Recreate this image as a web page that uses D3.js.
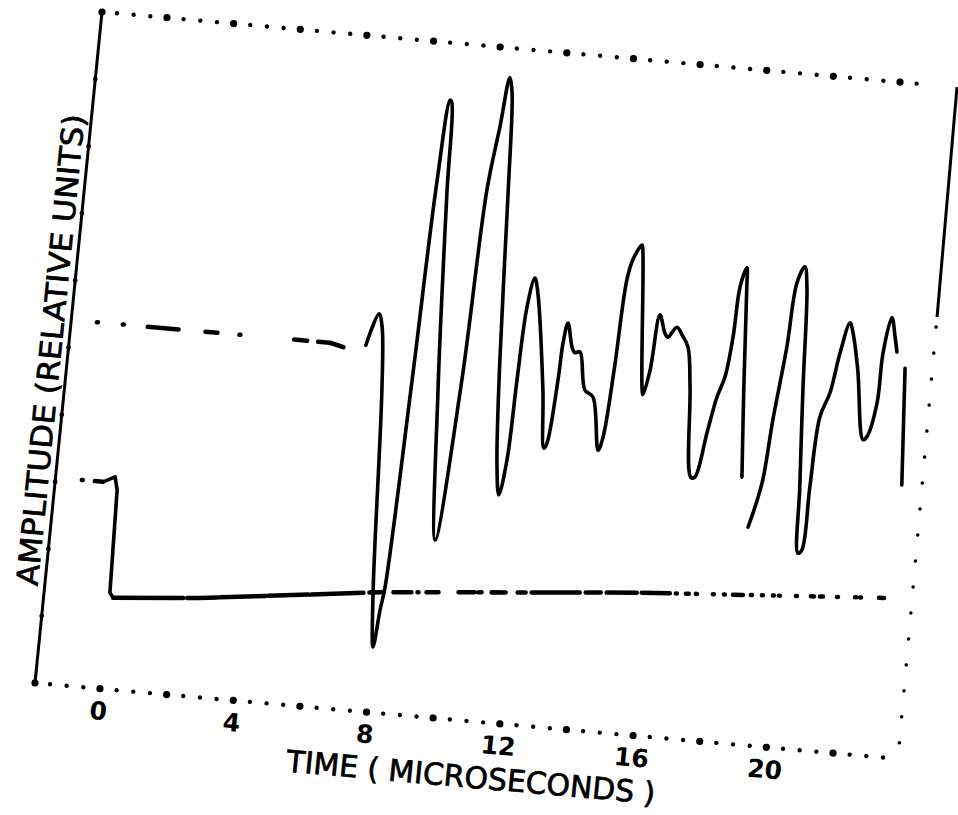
<!DOCTYPE html>
<html>
<head>
<meta charset="utf-8">
<script src="https://cdnjs.cloudflare.com/ajax/libs/d3/7.8.5/d3.min.js"></script>
<style>
  body { margin: 0; background: #fff; }
  svg { display: block; }
  .trace { fill: none; stroke: #000; stroke-width: 3.6; stroke-linecap: round; stroke-linejoin: round; }
  .lbl { font-family: "DejaVu Sans", sans-serif; fill: #000; }
</style>
</head>
<body>
<main></main>
<script>
var width = 958;
var height = 815;
var W = 862, H = 672;

// time in microseconds, amplitude in relative units (0 = bottom of frame, 100 = top)
var baseT = [-1.18, 1.37, 3.26, 4.97, 5.82, 6.49];
var baseA = [54.1, 54.1, 54.1, 54.1, 54.1, 53.3];

var waveT = [6.89, 7.19, 7.32, 7.50, 7.84, 8.00, 8.10, 8.18, 8.37, 8.52, 8.67, 8.73, 8.85, 9.17, 9.53,
             9.85, 10.03, 10.23, 10.38, 10.49, 10.67, 10.92, 11.14, 11.29, 11.43, 11.49, 11.57, 11.72,
             11.85, 12.29, 12.49, 12.57, 12.71, 12.75, 12.84, 13.03, 13.13, 13.28, 13.54, 13.80, 14.11,
             14.22, 14.35, 14.46, 14.58, 14.81, 14.86, 15.23, 15.28, 15.42, 15.55, 15.75, 15.85, 16.09,
             16.27, 16.48, 16.66, 16.95, 17.07, 17.30, 17.49, 17.67, 17.79, 17.85, 18.00, 18.05, 18.26, 18.47];
var waveA = [54.2, 59.0, 57.1, 47.8, 17.7, 9.7, 15.3, 18.7, 49.7, 79.5, 91.5, 91.1, 77.7, 48.5, 26.3,
             50.3, 78.7, 88.2, 95.6, 93.4, 78.5, 53.8, 38.5, 33.8, 39.1, 51.0, 61.9, 66.3,
             64.2, 49.9, 41.3, 42.1, 51.6, 57.1, 60.1, 56.6, 55.8, 56.0, 50.4, 49.5, 41.7,
             43.7, 53.8, 67.2, 70.3, 72.6, 71.4, 51.6, 50.5, 54.2, 62.5, 59.9, 59.3, 60.9,
             59.8, 58.1, 52.2, 38.9, 39.0, 45.7, 51.1, 54.2, 60.2, 67.7, 70.6, 67.8, 52.9, 39.6];

var tailT = [18.80, 18.95, 19.10, 19.22, 19.42, 19.53, 19.72, 19.84, 20.02, 20.22, 20.36, 20.47, 20.52,
             20.61, 20.84, 21.02, 21.23, 21.35, 21.60, 21.96, 22.07, 22.27, 22.30, 22.46, 22.61, 22.71];
var tailA = [32.3, 35.4, 39.5, 48.4, 59.4, 69.0, 71.5, 68.5, 53.7, 38.9, 29.1, 29.6, 39.0,
             49.5, 53.2, 59.2, 63.8, 62.3, 56.9, 46.7, 47.2, 52.3, 59.8, 65.1, 62.3, 60.1];

var endT = [23.00, 23.25];
var endA = [57.8, 40.5];

var preT = [-1.16, -0.52];
var preA = [30.6, 30.6];
var stepT = [-0.52, -0.18, -0.08, 0.01, 0.12];
var stepA = [30.6, 31.5, 29.6, 14.3, 13.6];
var lowT = [0.12, 2.71, 8.04, 15.78, 23.08];
var lowA = [13.6, 14.7, 17.9, 21.2, 23.6];

var labelTicks = [0, 4, 8, 12, 16, 20];
var xTitle = "TIME ( MICROSECONDS )";
var yTitle = "AMPLITUDE (RELATIVE UNITS)";

var svg = d3.select("main").append("svg")
    .attr("width", width)
    .attr("height", height);

// the scanned sheet is tilted a few degrees
var g = svg.append("g")
    .attr("transform", "matrix(0.9965,0.0876,-0.0997,0.9985,102,12)");

var x = d3.scaleLinear().domain([-1.95, 23.83]).range([0, W]);
var y = d3.scaleLinear().domain([0, 100]).range([H, 0]);

var line = d3.line()
    .x(function(d) { return x(d[0]); })
    .y(function(d) { return y(d[1]); })
    .curve(d3.curveCatmullRom.alpha(0.5));

var straight = d3.line()
    .x(function(d) { return x(d[0]); })
    .y(function(d) { return y(d[1]); });

// frame
g.append("line")
    .attr("x1", 0).attr("y1", 0).attr("x2", 0).attr("y2", H)
    .style("stroke", "#000").style("stroke-width", 3);
g.append("line")
    .attr("x1", W - 4).attr("y1", 0).attr("x2", W - 1).attr("y2", 230)
    .style("stroke", "#000").style("stroke-width", 3);
g.append("line")
    .attr("x1", W - 1).attr("y1", 240).attr("x2", W + 4).attr("y2", H)
    .style("stroke", "#000").style("stroke-width", 3.5)
    .style("stroke-linecap", "round")
    .style("stroke-dasharray", "0 26");

var small = x.ticks(52);
var big = x.ticks(13);

g.selectAll(".topdot")
    .data(small.filter(function(t) { return t <= 22.5; }))
  .enter().append("circle")
    .attr("class", "topdot")
    .attr("cx", function(t) { return x(t); })
    .attr("cy", 0)
    .attr("r", function(t) { return big.indexOf(t) >= 0 ? 3.6 : 2.2; });

g.selectAll(".botdot")
    .data(small)
  .enter().append("circle")
    .attr("class", "botdot")
    .attr("cx", function(t) { return x(t); })
    .attr("cy", H)
    .attr("r", function(t) { return big.indexOf(t) >= 0 ? 3.6 : 2.2; });

g.append("circle").attr("cx", 0).attr("cy", 0).attr("r", 3.6);
g.append("circle").attr("cx", 0).attr("cy", H).attr("r", 3.6);

g.selectAll(".ydot")
    .data(y.ticks(10).filter(function(v) { return v > 0 && v < 100; }))
  .enter().append("circle")
    .attr("cx", 0)
    .attr("cy", function(v) { return y(v); })
    .attr("r", 2.4);

// x tick labels
var xAxis = g.append("g")
    .attr("transform", "translate(0," + H + ")")
    .call(d3.axisBottom(x).tickValues(labelTicks).tickSize(0).tickPadding(13));
xAxis.select(".domain").remove();
xAxis.selectAll("text")
    .attr("class", "lbl")
    .style("font-size", "25px")
    .style("font-weight", "bold");

g.append("text")
    .attr("class", "lbl")
    .attr("x", 443)
    .attr("y", 738)
    .attr("text-anchor", "middle")
    .attr("textLength", 370)
    .attr("lengthAdjust", "spacingAndGlyphs")
    .style("font-size", "30px")
    .style("stroke", "#000")
    .style("stroke-width", 0.7)
    .text(xTitle);

g.append("text")
    .attr("class", "lbl")
    .attr("transform", "translate(-7,340) rotate(-90)")
    .attr("text-anchor", "middle")
    .attr("textLength", 472)
    .attr("lengthAdjust", "spacingAndGlyphs")
    .style("font-size", "30px")
    .style("stroke", "#000")
    .style("stroke-width", 0.7)
    .text(yTitle);

// traces
g.append("path")
    .attr("class", "trace")
    .attr("d", straight(d3.zip(baseT, baseA)))
    .style("stroke-width", 4.5)
    .style("stroke-dasharray", "1 25 1 24 31 27 12 22 1 54 13 11 26 40");

g.append("path")
    .attr("class", "trace")
    .attr("d", line(d3.zip(waveT, waveA)));

g.append("path")
    .attr("class", "trace")
    .attr("d", line(d3.zip(tailT, tailA)));

g.append("path")
    .attr("class", "trace")
    .attr("d", straight(d3.zip(endT, endA)));

g.append("path")
    .attr("class", "trace")
    .attr("d", straight(d3.zip(preT, preA)))
    .style("stroke-width", 4.5)
    .style("stroke-dasharray", "1 12 8 40");

g.append("path")
    .attr("class", "trace")
    .attr("d", straight(d3.zip(stepT, stepA)));

g.append("path")
    .attr("class", "trace")
    .attr("d", straight(d3.zip(lowT, lowA)))
    .style("stroke-width", 4.5)
    .style("stroke-dasharray",
        "70 4 30 3 45 3 40 3 52 6 14 10 18 6 1 8 12 20 16 4 3 10 14 12 8 6 48 6 15 6 30 5 28 6 " +
        "1 9 3 7 1 16 1 10 1 8 10 8 1 10 1 10 1 5 1 16 1 14 3 6 3 14 1 17 1 4 1 18 5 60");
</script>
</body>
</html>
